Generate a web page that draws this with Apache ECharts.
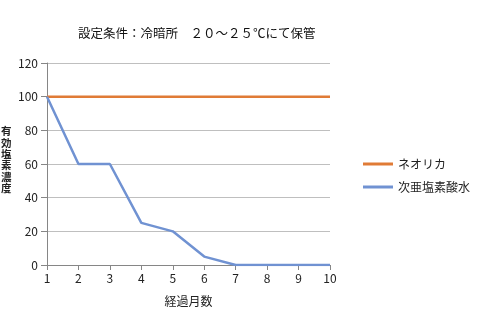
<!DOCTYPE html>
<html><head><meta charset="utf-8">
<script src="https://cdn.jsdelivr.net/npm/echarts@6/dist/echarts.min.js"></script>
<style>html,body{margin:0;padding:0;background:#fff}#c{width:492px;height:310px}</style>
</head><body><div id="c"></div>
<script>
const months = ['1','2','3','4','5','6','7','8','9','10'];
const neoorika = [100,100,100,100,100,100,100,100,100,100];
const hypochlorite = [100,60,60,25,20,5,0,0,0,0];
const seriesNames = ['ネオリカ','次亜塩素酸水'];
const titleText = '設定条件：冷暗所　２０～２５℃にて保管';
const yName = '有効塩素濃度';
const xName = '経過月数';

const font = "'Noto Sans CJK JP', sans-serif";
const chart = echarts.init(document.getElementById('c'));
const yNameGraphics = yName.split('').map((ch, i) => ({
  type: 'text', x: 1, y: 126 + i * 11.4,
  style: {text: ch, font: "bold 10.5px 'Noto Sans CJK JP', sans-serif", fill: '#222', align: 'left', verticalAlign: 'top'}
}));
chart.setOption({
  animation: false,
  textStyle: {fontFamily: font},
  title: {text: titleText, left: 73, top: 22, textStyle: {fontSize: 12.5, fontWeight: 'normal', color: '#111', fontFamily: font}},
  grid: {left: 47, right: 162, top: 63, bottom: 45, containLabel: false, outerBoundsMode: 'none'},
  graphic: yNameGraphics,
  legend: {
    orient: 'vertical', left: 358, top: 153, itemWidth: 30, itemHeight: 3, itemGap: 11,
    icon: 'rect',
    textStyle: {fontSize: 12, color: '#222', fontFamily: font},
    data: seriesNames
  },
  xAxis: {
    type: 'category', data: months, boundaryGap: false,
    name: xName, nameLocation: 'middle', nameGap: 30,
    nameTextStyle: {fontSize: 12, color: '#222', fontFamily: font},
    axisLine: {lineStyle: {color: '#868686', width: 1}},
    axisTick: {show: true, length: 5, alignWithLabel: true, lineStyle: {color: '#868686'}},
    axisLabel: {fontSize: 12, color: '#222', margin: 7},
    splitLine: {show: false}
  },
  yAxis: {
    type: 'value', min: 0, max: 120, interval: 20,
    axisLine: {show: true, lineStyle: {color: '#868686', width: 1}},
    axisTick: {show: true, length: 6, lineStyle: {color: '#868686'}},
    axisLabel: {fontSize: 12, color: '#222', margin: 9},
    splitLine: {show: true, lineStyle: {color: '#BFBFBF', width: 1}}
  },
  series: [
    {name: seriesNames[0], type: 'line', data: neoorika, symbol: 'none', color: '#E07B36', lineStyle: {width: 2.5, color: '#E07B36'}},
    {name: seriesNames[1], type: 'line', data: hypochlorite, symbol: 'none', color: '#7092D2', lineStyle: {width: 2.5, color: '#7092D2'}}
  ]
});
</script></body></html>
